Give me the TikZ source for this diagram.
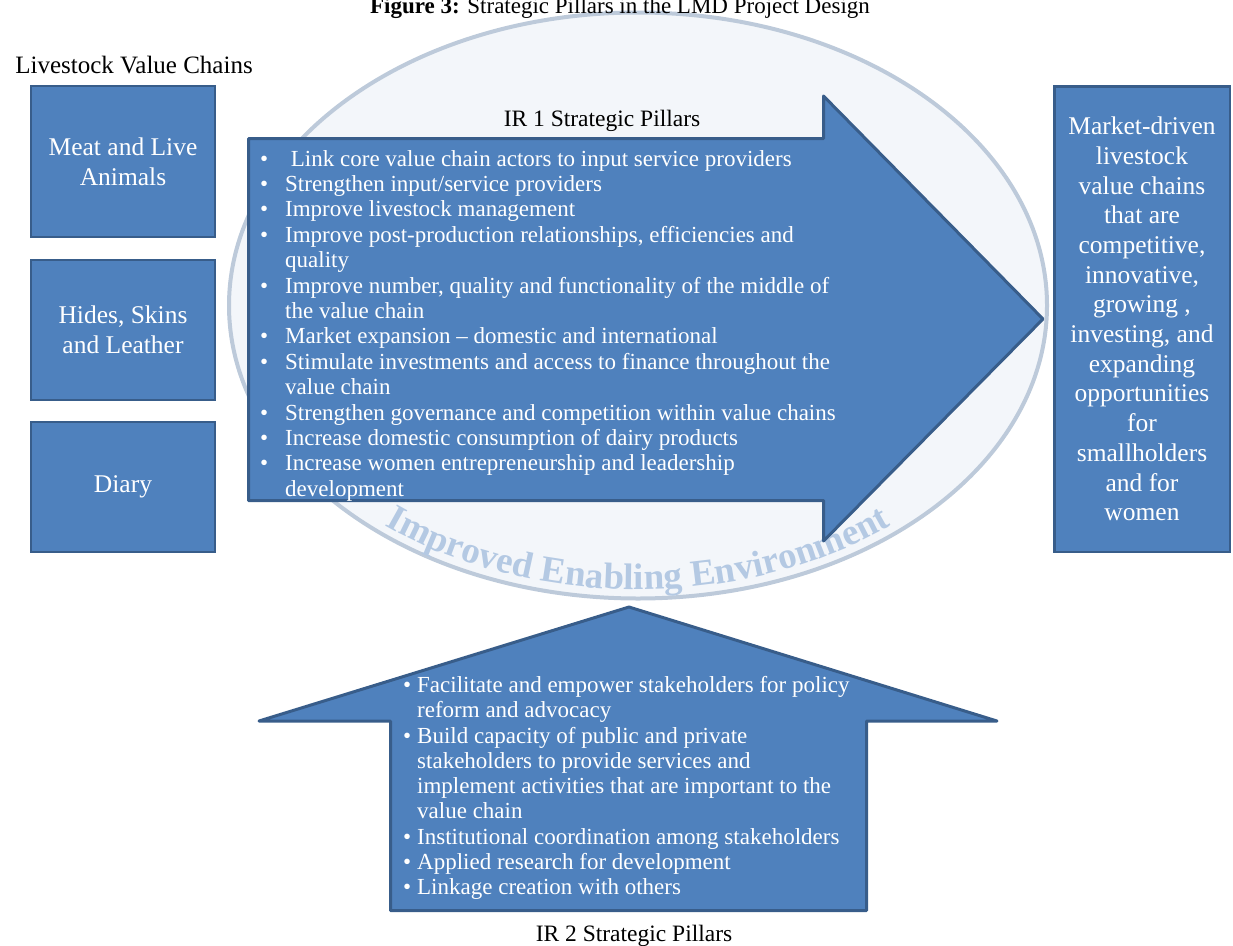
\documentclass[tikz,border=0pt]{standalone}
\usepackage{fontspec}
\setmainfont{Liberation Serif}
\usetikzlibrary{decorations.text}

\definecolor{pillarblue}{RGB}{79,129,189}
\definecolor{pillaredge}{RGB}{56,93,138}
\definecolor{envfill}{RGB}{243,246,250}
\definecolor{envline}{RGB}{189,202,218}
\definecolor{envtext}{RGB}{180,201,227}

\newcommand{\pitem}[2][25pt]{\makebox[#1][l]{\textbullet}#2}
\newcommand{\pcont}[2][25pt]{\hspace*{#1}#2}

\tikzset{
  chainbox/.style={draw=pillaredge, fill=pillarblue, line width=2.5pt, text=white, align=center, inner sep=0pt, font=\fontsize{25.5}{30}\selectfont},
  pillarshape/.style={draw=pillaredge, fill=pillarblue, line width=3pt, line join=round},
  pillarlist/.style={text=white, align=left, inner sep=0pt, anchor=north west},
  caption/.style={inner sep=0pt, anchor=base, font=\fontsize{23.5}{28}\selectfont}
}

\begin{document}
\begin{tikzpicture}[x=1pt,y=1pt,yscale=-1,xscale=1]
\useasboundingbox (0,0) rectangle (1233,945);

%Shape: Ellipse [environment]
\draw [envline, fill=envfill, line width=4pt] (638,305.5) ellipse [x radius=409, y radius=293];
%Curved text
\path [decorate, decoration={text along path, text align=center,
  text={|\fontsize{37}{37}\selectfont\bfseries\color{envtext}|Improved Enabling Environment}}]
  (638,305.5) ++(138:400 and 284) arc [start angle=138, end angle=42, x radius=400, y radius=284];

%Shape: Right Arrow [IR 1]
\draw [pillarshape] (248.5,138.5) -- (823.5,138.5) -- (823.5,96) -- (1043,319) -- (823.5,541) -- (823.5,500.5) -- (248.5,500.5) -- cycle;
%Shape: Up Arrow [IR 2]
\draw [pillarshape] (390.5,910.5) -- (390.5,721) -- (259,721) -- (629,607) -- (997,721) -- (866.5,721) -- (866.5,910.5) -- cycle;

% Text Node
\node [inner sep=0pt, anchor=base, font=\fontsize{23}{28}\selectfont] (title) at (620,13) {\textbf{Figure 3:} Strategic Pillars in the LMD Project Design};
% Text Node
\node [caption, font=\fontsize{25}{28}\selectfont] (vclabel) at (134,73) {Livestock Value Chains};
% Text Node
\node [caption] (irone) at (602,126) {IR 1 Strategic Pillars};
% Text Node
\node [caption] (irtwo) at (634,941) {IR 2 Strategic Pillars};

% Value chain boxes
\node [chainbox, minimum width=184pt, minimum height=151pt] (meat) at (123,161.5) {Meat and Live\\Animals};
\node [chainbox, minimum width=184pt, minimum height=140pt] (hides) at (123,330) {Hides, Skins\\and Leather};
\node [chainbox, minimum width=184pt, minimum height=130pt] (diary) at (123,487) {Diary};
% Outcome box
\node [chainbox, font=\fontsize{25.5}{29.7}\selectfont, minimum width=175.5pt, minimum height=465.5pt] (outcome) at (1142,319)
  {Market-driven\\livestock\\value chains\\that are\\competitive,\\innovative,\\growing ,\\investing, and\\expanding\\opportunities\\for\\smallholders\\and for\\women};

% Text Node
\node [pillarlist, font=\fontsize{23}{25.4}\selectfont] (irone list) at (260,150) {%
\pitem{\ Link core value chain actors to input service providers}\\
\pitem{Strengthen input/service providers}\\
\pitem{Improve livestock management}\\
\pitem{Improve post-production relationships, efficiencies and}\\
\pcont{quality}\\
\pitem{Improve number, quality and functionality of the middle of}\\
\pcont{the value chain}\\
\pitem{Market expansion -- domestic and international}\\
\pitem{Stimulate investments and access to finance throughout the}\\
\pcont{value chain}\\
\pitem{Strengthen governance and competition within value chains}\\
\pitem{Increase domestic consumption of dairy products}\\
\pitem{Increase women entrepreneurship and leadership}\\
\pcont{development}};
% Text Node
\node [pillarlist, font=\fontsize{23}{25.3}\selectfont] (irtwo list) at (403,676) {%
\pitem[14pt]{Facilitate and empower stakeholders for policy}\\
\pcont[14pt]{reform and advocacy}\\
\pitem[14pt]{Build capacity of public and private}\\
\pcont[14pt]{stakeholders to provide services and}\\
\pcont[14pt]{implement activities that are important to the}\\
\pcont[14pt]{value chain}\\
\pitem[14pt]{Institutional coordination among stakeholders}\\
\pitem[14pt]{Applied research for development}\\
\pitem[14pt]{Linkage creation with others}};

\end{tikzpicture}
\end{document}
